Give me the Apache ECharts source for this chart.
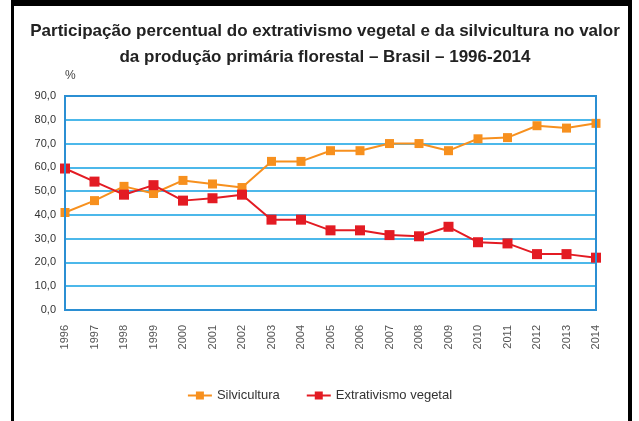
<!DOCTYPE html>
<html>
<head>
<meta charset="utf-8">
<script src="https://cdn.jsdelivr.net/npm/echarts@6/dist/echarts.min.js"></script>
<style>
  html, body { margin: 0; padding: 0; background: #fff; }
  #chart { position: absolute; left: 0; top: 0; width: 639px; height: 421px; }
  #frame {
    position: absolute; left: 11px; top: 0; width: 621px; height: 421px;
    border-top: 6px solid #000; border-left: 3px solid #000; border-right: 4px solid #000;
    box-sizing: border-box; pointer-events: none;
  }
</style>
</head>
<body>
<div id="chart"></div>
<div id="frame"></div>
<script>
var years = ['1996', '1997', '1998', '1999', '2000', '2001', '2002', '2003', '2004', '2005',
  '2006', '2007', '2008', '2009', '2010', '2011', '2012', '2013', '2014'];
// Silvicultura (%)
var silvicultura = [41, 46, 52, 49, 54.5, 53, 51.5, 62.5, 62.5, 67, 67, 70, 70, 67, 72, 72.5, 77.5, 76.5, 78.5];
// Extrativismo vegetal (%)
var extrativismo = [59.5, 54, 48.5, 52.5, 46, 47, 48.5, 38, 38, 33.5, 33.5, 31.5, 31, 35, 28.5, 28, 23.5, 23.5, 22];
var yTicks = [0, 10, 20, 30, 40, 50, 60, 70, 80, 90];

var chart = echarts.init(document.getElementById('chart'));
var font = "'Liberation Sans', Arial, sans-serif";

var option = {
  backgroundColor: '#fff',
  animation: false,
  title: {
    text: 'Participação percentual do extrativismo vegetal e da silvicultura no valor\nda produção primária florestal – Brasil – 1996-2014',
    left: 320,
    textAlign: 'center',
    top: 13,
    textStyle: {
      fontFamily: "'Liberation Sans Narrow', 'Arial Narrow', " + font,
      fontSize: 17,
      fontWeight: 'bold',
      color: '#222',
      lineHeight: 26
    }
  },
  legend: {
    bottom: 14,
    left: 'center',
    itemGap: 26,
    itemWidth: 24,
    itemHeight: 10,
    textStyle: { fontFamily: font, fontSize: 13, color: '#333' },
    data: ['Silvicultura', 'Extrativismo vegetal']
  },
  grid: { left: 65, right: 43, top: 96, bottom: 111, containLabel: false },
  xAxis: {
    type: 'category',
    data: years,
    boundaryGap: false,
    axisLine: { show: false },
    axisTick: { show: false },
    axisLabel: {
      rotate: 90,
      margin: 15,
      fontFamily: font,
      fontSize: 11,
      color: '#555'
    },
    splitLine: { show: false }
  },
  yAxis: {
    type: 'value',
    min: yTicks[0],
    max: yTicks[yTicks.length - 1],
    interval: 10,
    name: '%',
    nameLocation: 'end',
    nameGap: 14,
    nameTextStyle: { fontFamily: font, fontSize: 12, color: '#444', align: 'left', padding: [0, 0, 0, 0] },
    axisLine: { show: false },
    axisTick: { show: false },
    axisLabel: {
      margin: 9,
      fontFamily: font,
      fontSize: 11,
      color: '#333',
      formatter: function(v) { return v.toFixed(1).replace('.', ','); }
    },
    splitLine: { show: true, lineStyle: { color: '#4cb8ea', width: 2 } }
  },
  graphic: [],
  series: [
    {
      name: 'Silvicultura',
      type: 'line',
      data: silvicultura,
      symbol: 'rect',
      symbolSize: 9,
      itemStyle: { color: '#f7901e' },
      lineStyle: { color: '#f7901e', width: 2 },
      z: 3
    },
    {
      name: 'Extrativismo vegetal',
      type: 'line',
      data: extrativismo,
      symbol: 'rect',
      symbolSize: 10,
      itemStyle: { color: '#e31b23' },
      lineStyle: { color: '#e31b23', width: 2 },
      z: 4
    }
  ]
};
chart.setOption(option);

// moldura azul da área do gráfico
var rect = chart.getModel().getComponent('grid').coordinateSystem.getRect();
chart.setOption({
  graphic: [{
    type: 'rect',
    shape: { x: rect.x, y: rect.y, width: rect.width, height: rect.height },
    style: { fill: null, stroke: '#2b8fd3', lineWidth: 2 },
    z: 10,
    silent: true
  }]
});
</script>
</body>
</html>
